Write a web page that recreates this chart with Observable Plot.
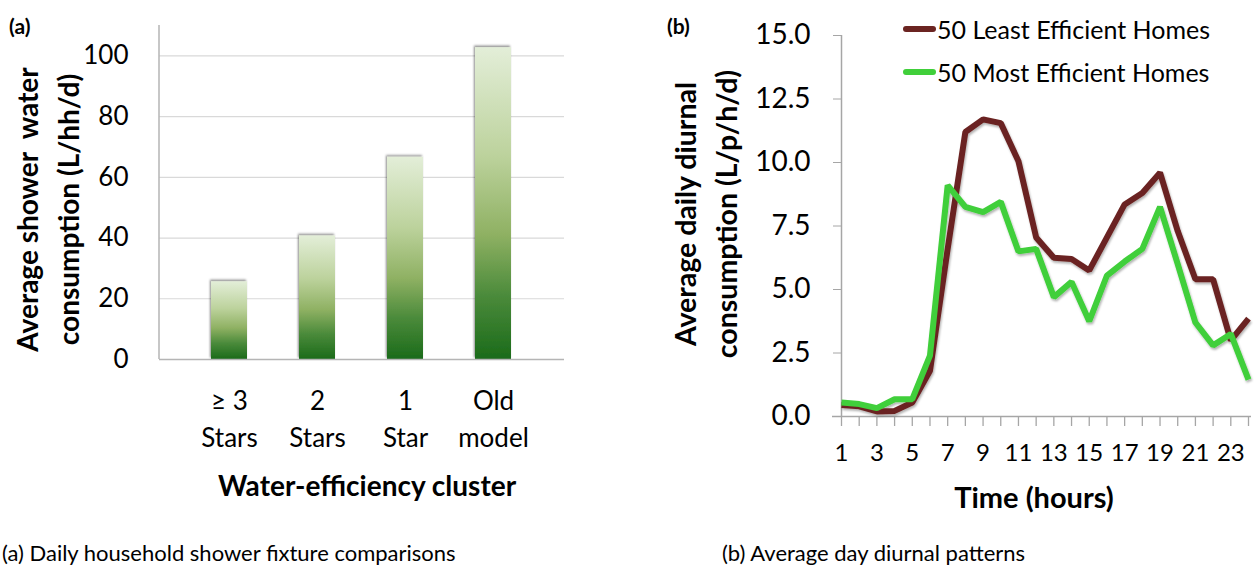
<!DOCTYPE html>
<html>
<head>
<meta charset="utf-8">
<script src="https://cdn.jsdelivr.net/npm/d3@7"></script>
<script src="https://cdn.jsdelivr.net/npm/@observablehq/plot@0.6"></script>
<style>
  html, body { margin: 0; padding: 0; background: #fff; }
  #wrap { position: relative; width: 1255px; height: 569px; overflow: hidden; font-family: Lato, "Open Sans", sans-serif; color: #000; }
  .panel { position: absolute; top: 0; }
  .cap { position: absolute; top: 539px; font-size: 22px; white-space: nowrap; line-height: 28px; }
  .tag { position: absolute; top: 13px; font-size: 21px; font-weight: bold; }
  .legend { position: absolute; left: 903px; font-size: 25px; white-space: nowrap; display: flex; align-items: center; }
  .legend .sw { display: inline-block; width: 33px; height: 6px; border-radius: 3px; margin-right: 1px; }
</style>
</head>
<body>
<div id="wrap"></div>
<script>
// ---------- data: panel (a) ----------
const clusters = ["≥ 3\nStars", "2\nStars", "1\nStar", "Old\nmodel"];
const showerUse = [25.6, 40.7, 66.6, 102.7];
const yTicksA = [0, 20, 40, 60, 80, 100];

// ---------- data: panel (b) ----------
const hours = [1, 2, 3, 4, 5, 6, 7, 8, 9, 10, 11, 12, 13, 14, 15, 16, 17, 18, 19, 20, 21, 22, 23, 24];
const hourLabels = [1, 3, 5, 7, 9, 11, 13, 15, 17, 19, 21, 23];
const leastEfficient = [0.45, 0.40, 0.20, 0.22, 0.55, 1.8, 6.6, 11.2, 11.7, 11.55, 10.05, 7.05, 6.25, 6.2, 5.75, 7.05, 8.35, 8.8, 9.6, 7.3, 5.4, 5.4, 3.0, 3.85];
const mostEfficient = [0.55, 0.49, 0.33, 0.68, 0.68, 2.4, 9.1, 8.25, 8.05, 8.45, 6.5, 6.6, 4.7, 5.3, 3.75, 5.55, 6.1, 6.6, 8.25, 6.0, 3.7, 2.8, 3.25, 1.45];
const yTicksB = [0, 2.5, 5, 7.5, 10, 12.5, 15];
const seriesNames = ["50 Least Efficient Homes", "50 Most Efficient Homes"];
const seriesColors = ["#6b2421", "#40cf3a"];

const wrap = document.getElementById("wrap");
const FONT = "Lato, 'Open Sans', sans-serif";

// ---------- panel (a) ----------
const barData = clusters.map((c, i) => ({cluster: c, value: showerUse[i]}));

const leftAxisLine = (index, scales, values, dim) =>
  d3.create("svg:line")
    .attr("x1", dim.marginLeft).attr("x2", dim.marginLeft)
    .attr("y1", dim.marginTop).attr("y2", dim.height - dim.marginBottom)
    .attr("stroke", "#b5b5b5").attr("stroke-width", 1.5).node();

const plotA = Plot.plot({
  width: 640, height: 520,
  marginLeft: 159, marginRight: 76, marginTop: 25, marginBottom: 161,
  style: {fontFamily: FONT, color: "#000", background: "transparent", overflow: "visible"},
  x: {domain: clusters, padding: 0.59, axis: null},
  y: {domain: [0, 110], axis: null},
  marks: [
    Plot.gridY(yTicksA.slice(1), {stroke: "#d9d9d9", strokeOpacity: 1, strokeWidth: 1.2}),
    Plot.barY(barData, {x: "cluster", y: "value", fill: "url(#barGrad)"}),
    Plot.ruleY([0], {stroke: "#b5b5b5", strokeWidth: 1.5}),
    leftAxisLine,
    Plot.axisY(yTicksA, {tickSize: 0, tickPadding: 31, fontSize: 26, label: null, tickFormat: d3.format("d")}),
    Plot.text(barData, {x: "cluster", text: "cluster", frameAnchor: "bottom", lineAnchor: "middle", lineHeight: 1.42, dy: 57, fontSize: 26}),
    Plot.text(["Water-efficiency cluster"], {frameAnchor: "bottom", dy: 136, dx: 5, fontSize: 28, fontWeight: "bold"}),
    Plot.text(["Average shower  water\nconsumption (L/hh/d)"], {frameAnchor: "left", textAnchor: "middle", rotate: -90, lineAnchor: "middle", lineHeight: 1.45, dx: -114, dy: 17, fontSize: 28, fontWeight: "bold"})
  ]
});
plotA.classList.add("panel");
plotA.style.left = "0px";
{
  const defs = d3.create("svg:defs");
  const g = defs.append("linearGradient").attr("id", "barGrad").attr("x1", 0).attr("y1", 0).attr("x2", 0).attr("y2", 1);
  [[0, "#e3eed8"], [0.35, "#bcd29c"], [0.6, "#8fb163"], [0.8, "#4a8a3a"], [1, "#1b6b1a"]]
    .forEach(([o, c]) => g.append("stop").attr("offset", o).attr("stop-color", c));
  const f = defs.append("filter").attr("id", "barShadow").attr("x", "-20%").attr("y", "-5%").attr("width", "140%").attr("height", "110%");
  f.append("feDropShadow").attr("dx", -1).attr("dy", -1.5).attr("stdDeviation", 1.3).attr("flood-color", "#000").attr("flood-opacity", 0.45);
  plotA.insertBefore(defs.node(), plotA.firstChild);
  plotA.querySelectorAll('g[aria-label="bar"]').forEach(el => el.setAttribute("filter", "url(#barShadow)"));
}
wrap.appendChild(plotA);

// ---------- panel (b) ----------
const lineData = [];
hours.forEach((h, i) => {
  lineData.push({hour: h, value: leastEfficient[i], series: seriesNames[0]});
});
hours.forEach((h, i) => {
  lineData.push({hour: h, value: mostEfficient[i], series: seriesNames[1]});
});

const plotB = Plot.plot({
  width: 595, height: 520,
  marginLeft: 181, marginRight: 7, marginTop: 35, marginBottom: 104,
  style: {fontFamily: FONT, color: "#000", background: "transparent", overflow: "visible"},
  x: {domain: [1, 24], axis: null},
  y: {domain: [0, 15], axis: null},
  color: {domain: seriesNames, range: seriesColors},
  marks: [
    Plot.ruleY([0], {stroke: "#a6a6a6", strokeWidth: 1.5, insetLeft: -9, insetRight: -3}),
    Plot.ruleX([1], {y1: 0, y2: 15, stroke: "#a6a6a6", strokeWidth: 1.5}),
    Plot.axisX(hours, {tickSize: 10, tickPadding: 17, fontSize: 24, label: null, stroke: "#a6a6a6", strokeWidth: 1.3,
      tickFormat: h => hourLabels.includes(h) ? String(h) : ""}),
    Plot.axisY(yTicksB, {tickSize: 8, tickPadding: 23, fontSize: 28, label: null, stroke: "#a6a6a6", tickFormat: d3.format(".1f")}),
    Plot.line(lineData, {x: "hour", y: "value", stroke: "series", strokeWidth: 6, strokeLinejoin: "miter", strokeLinecap: "butt"}),
    Plot.text(["Time (hours)"], {frameAnchor: "bottom", dy: 91, dx: -11, fontSize: 29, fontWeight: "bold"}),
    Plot.text(["Average daily diurnal\nconsumption (L/p/h/d)"], {frameAnchor: "left", textAnchor: "middle", rotate: -90, lineAnchor: "middle", lineHeight: 1.45, dx: -138, dy: -12, fontSize: 28.5, fontWeight: "bold"})
  ]
});
plotB.classList.add("panel");
plotB.style.left = "660px";
{
  const defs = d3.create("svg:defs");
  const f = defs.append("filter").attr("id", "lineShadow").attr("x", "-5%").attr("y", "-5%").attr("width", "110%").attr("height", "110%");
  f.append("feDropShadow").attr("dx", 1).attr("dy", 2).attr("stdDeviation", 1.3).attr("flood-color", "#000").attr("flood-opacity", 0.3);
  plotB.insertBefore(defs.node(), plotB.firstChild);
  plotB.querySelectorAll('g[aria-label="line"]').forEach(el => el.setAttribute("filter", "url(#lineShadow)"));
}
wrap.appendChild(plotB);

// ---------- legend (b) ----------
seriesNames.forEach((name, i) => {
  const row = document.createElement("div");
  row.className = "legend";
  row.style.top = (i === 0 ? 14 : 57) + "px";
  const sw = document.createElement("span");
  sw.className = "sw";
  sw.style.background = seriesColors[i];
  row.appendChild(sw);
  row.appendChild(document.createTextNode(name));
  wrap.appendChild(row);
});

// ---------- panel tags and captions ----------
[["(a)", 9], ["(b)", 667]].forEach(([t, x]) => {
  const d = document.createElement("div");
  d.className = "tag"; d.style.left = x + "px"; d.textContent = t;
  wrap.appendChild(d);
});
[["(a) Daily household shower fixture comparisons", 2], ["(b) Average day diurnal patterns", 722]].forEach(([t, x]) => {
  const d = document.createElement("div");
  d.className = "cap"; d.style.left = x + "px"; d.textContent = t;
  wrap.appendChild(d);
});
</script>
</body>
</html>
